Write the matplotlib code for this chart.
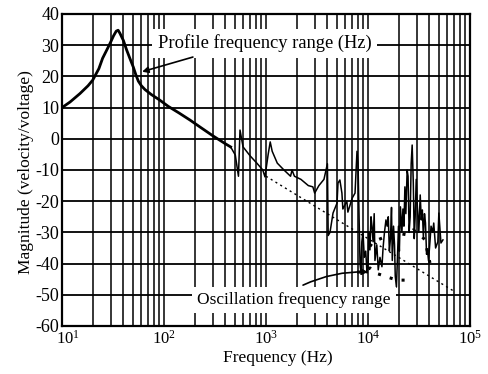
import numpy as np
import matplotlib
matplotlib.use("Agg")
from matplotlib import pyplot as plt
from matplotlib.transforms import ScaledTranslation

plt.rcParams['font.family'] = ['Liberation Serif', 'DejaVu Serif']
plt.rcParams['mathtext.fontset'] = 'custom'
plt.rcParams['mathtext.rm'] = 'Liberation Serif'
plt.rcParams['axes.unicode_minus'] = False

# profile range (smooth part of the response)
f_low = [10, 12, 15, 18, 20, 23, 25, 28, 30, 32, 34, 35.5, 37, 40, 43, 46, 50, 53,
         56, 60, 65, 75, 90, 110, 140, 180, 225, 300, 400, 450]
m_low = [10, 11.8, 14.5, 17, 18.8, 22.5, 25.8, 29, 31, 33, 34.5, 34.8, 33.8, 31.5,
         28.5, 26, 23, 20.5, 18.5, 17, 15.8, 14.2, 12.5, 10.4, 8.3, 6, 3.8, 1, -1.6, -2.6]

# measured response above ~500 Hz (noisy part)
f_hi = [500, 537, 556, 596, 700, 813, 930, 977, 1050, 1100,
        1150, 1290, 1500, 1740, 1800, 1900, 2200, 2600, 2880, 3000,
        3300, 3700, 4000, 4070, 4240, 4540, 4970, 5080, 5300, 5550,
        5670, 6200, 6350, 7000, 7460, 7800, 7980, 8350, 8540, 8700,
        8930, 9200, 9500, 9780, 10000, 10200, 10450, 10700, 10940, 11210,
        11500, 11700, 12200, 12600, 13100, 13700, 14050, 14500, 15000, 15400,
        15800, 16200, 16600, 17000, 17300, 17800, 18200, 18500, 19000, 19400,
        19900, 20300, 20800, 21500, 22000, 22500, 23000, 23500, 24200, 24700,
        25300, 25900, 26500, 27100, 27800, 28400, 29000, 29700, 30400, 31500,
        32500, 33300, 34100, 34900, 35800, 36600, 37500, 38300, 39200, 40500,
        41500, 43100, 44100, 46000, 48400, 49500, 51900, 54300]
m_hi = [-5.2, -12, 2.8, -2.6, -5.5, -7.8, -10, -12.2, -5, -1,
        -4, -7.8, -10, -12, -10, -12, -13, -15, -15.4, -17.4,
        -15, -13, -8, -31, -30, -23.8, -20.6, -14.2, -13.2, -17.4,
        -22.5, -20, -23.5, -19, -17.4, -4, -7.8, -40, -43, -33,
        -30, -38, -36, -43, -41, -30, -35.6, -25, -28, -33,
        -24, -39, -34, -42, -38, -41, -35, -30, -26, -28,
        -25, -36, -32, -22, -39, -28, -34, -44, -47.5, -39,
        -28, -36, -21.8, -30, -22.5, -28, -15.4, -24, -10, -12,
        -30, -25, -8, -2, -14, -32, -25, -13, -21, -30,
        -18, -26, -22.8, -31.5, -24, -27, -37, -35.6, -39, -33,
        -28, -30, -27, -35, -33, -23.8, -33.4, -32.4]

# -20 dB/decade asymptote
f_asym = [1000, 70000]
m_asym = [-12, -48.9]

# heavy dotted curves in the oscillation range
f_dot_up = [10450, 11200, 13800, 19400, 24200, 27800, 33000, 36200, 37900, 40500]
m_dot_up = [-34.5, -33, -31.8, -30.2, -30.8, -29.2, -31, -32.4, -35.6, -39.8]
f_dot_lo = [7800, 9000, 10450, 11700, 13700, 15400, 19400, 23000, 25900]
m_dot_lo = [-42.7, -42.7, -41.4, -43, -43.7, -44.3, -45.3, -45.3, -45.3]

fig = plt.figure(figsize=(4.89, 3.74), dpi=100)
ax = fig.add_axes([62 / 489, 1 - 326 / 374, 408 / 489, 312 / 374])

ax.plot(f_low, m_low, color='k', lw=2.0, zorder=3)
ax.plot([f_low[-1]] + f_hi, [m_low[-1]] + m_hi, color='k', lw=1.1, zorder=3)
ax.plot(f_asym, m_asym, color='k', lw=1.0, ls=(0, (1.5, 2.5)), zorder=3)
ax.plot(f_dot_up, m_dot_up, color='k', lw=2.2, ls=(0, (1, 3)), zorder=3)
ax.plot(f_dot_lo, m_dot_lo, color='k', lw=2.2, ls=(0, (1, 3)), zorder=3)

ax.set_xscale('log')
ax.set_xlim(10, 1e5)
ax.set_ylim(-60, 40)
ax.set_yticks(np.arange(-60, 41, 10))
ax.grid(which='both', axis='x', color='k', lw=1.1)
ax.grid(which='major', axis='y', color='k', lw=1.3)
ax.set_axisbelow(True)
ax.tick_params(which='both', length=0)
ax.tick_params(axis='x', pad=3, labelsize=12)
ax.tick_params(axis='y', pad=2, labelsize=13)
for s in ax.spines.values():
    s.set_linewidth(1.6)

# nudge the 10^1 label right, away from "-60"
fig.canvas.draw()
for t in ax.xaxis.get_major_ticks():
    if np.isclose(t.get_loc(), 10):
        t.label1.set_transform(t.label1.get_transform()
                               + ScaledTranslation(6 / 100, 0, fig.dpi_scale_trans))

fig.text(278 / 489, 1 - 358 / 374, 'Frequency (Hz)', ha='center', va='center', fontsize=12.5)
fig.text(26 / 489, 1 - 172 / 374, 'Magnitude (velocity/voltage)', ha='center', va='center',
         rotation=90, fontsize=12.5)

ax.text(87, 30.7, 'Profile frequency range (Hz)', ha='left', va='center', fontsize=13.3,
        zorder=5, bbox=dict(boxstyle='square,pad=0.3', fc='white', ec='none'))
ax.annotate('', xy=(61, 21.5), xytext=(192, 26.2), zorder=6,
            arrowprops=dict(arrowstyle='-|>', color='k', lw=1.2, mutation_scale=9,
                            shrinkA=0, shrinkB=0))

ax.text(211, -51.7, 'Oscillation frequency range', ha='left', va='center', fontsize=12.5,
        zorder=5, bbox=dict(boxstyle='square,pad=0.3', fc='white', ec='none'))
ax.annotate('', xy=(10000, -42.7), xytext=(2307, -46.9), zorder=6,
            arrowprops=dict(arrowstyle='-|>', color='k', lw=1.2, mutation_scale=9,
                            shrinkA=0, shrinkB=0, connectionstyle='arc3,rad=-0.12'))

fig.savefig('out.png', dpi=100)
